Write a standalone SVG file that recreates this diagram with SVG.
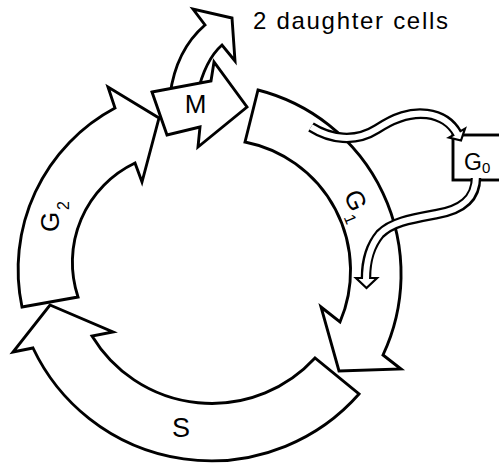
<svg xmlns="http://www.w3.org/2000/svg" width="499" height="463" viewBox="0 0 499 463">
<style>
.blk{fill:#fff;stroke:#000;stroke-width:2.9;stroke-linejoin:miter}
.lbl{font-family:"Liberation Sans",Arial,sans-serif;fill:#000}
.shO{fill:none;stroke:#000;stroke-width:10.5}
.shI{fill:none;stroke:#fff;stroke-width:6}
.hd{fill:#fff;stroke:#000;stroke-width:2.2}
</style>
<rect width="499" height="463" fill="#fff"/>
<g id="G2">
<path class="blk" d="M22,307 A183,183 0 0 1 115,108 L108,87 L159,118 L142,182 L135,163 A110,110 0 0 0 78,297 Z"/>
<g class="lbl" transform="translate(59,232) rotate(-90)"><text x="0" y="0" font-size="26">G</text><text x="22" y="10" font-size="16">2</text></g>
</g>
<g id="S">
<path class="blk" d="M50,305 L113,332 L92,336 A140,140 0 0 0 315,358 L359,394 A197,197 0 0 1 33,348 L13,352 Z"/>
<text class="lbl" x="181" y="437" font-size="27" text-anchor="middle">S</text>
</g>
<g id="G1">
<path class="blk" d="M258,90 A190,190 0 0 1 383,355 L401,369 L339,371 L321,307 L340,322 A131,131 0 0 0 245,142 Z"/>
<g class="lbl" transform="translate(343.5,194.4) rotate(67)"><text x="0" y="0" font-size="26">G</text><text x="21" y="9" font-size="16">1</text></g>
</g>
<g id="G0">
<rect class="blk" x="453" y="135" width="60" height="45"/>
<text class="lbl" x="464" y="170" font-size="23">G</text>
<text class="lbl" x="482" y="173" font-size="15">0</text>
</g>
<g id="daughter">
<path class="blk" d="M170,95 Q176,50 205,25 L193,9 L232,18 L235,61 L222,45 Q205,60 197,95 Z"/>
<text class="lbl" x="253" y="29" font-size="24" textLength="195" lengthAdjust="spacing">2 daughter cells</text>
</g>
<g id="M">
<path class="blk" d="M152,92 L211,81 L214,62 L247,107 L198,147 L200,127 L167,135 Z"/>
<text class="lbl" x="195.5" y="113" font-size="26" text-anchor="middle">M</text>
</g>
<g id="connectors">
<path class="shO" d="M311,127 C330,139 355,143 377,129 C395,117 410,112 427,114 C442,116 452,124 457,133"/>
<polygon class="hd" points="465,128.6 449,137.6 461,140.5"/>
<path class="shI" d="M311,127 C330,139 355,143 377,129 C395,117 410,112 427,114 C442,116 452,124 458,135"/>
<path class="shO" d="M476,178 C476,200 460,210 437,214 C410,219 392,222 380,234 C370,246 366,260 366,277"/>
<polygon class="hd" points="356,278 377,278 366.5,288"/>
<path class="shI" d="M476,176 C476,200 460,210 437,214 C410,219 392,222 380,234 C370,246 366,260 366,280"/>
</g>
</svg>
